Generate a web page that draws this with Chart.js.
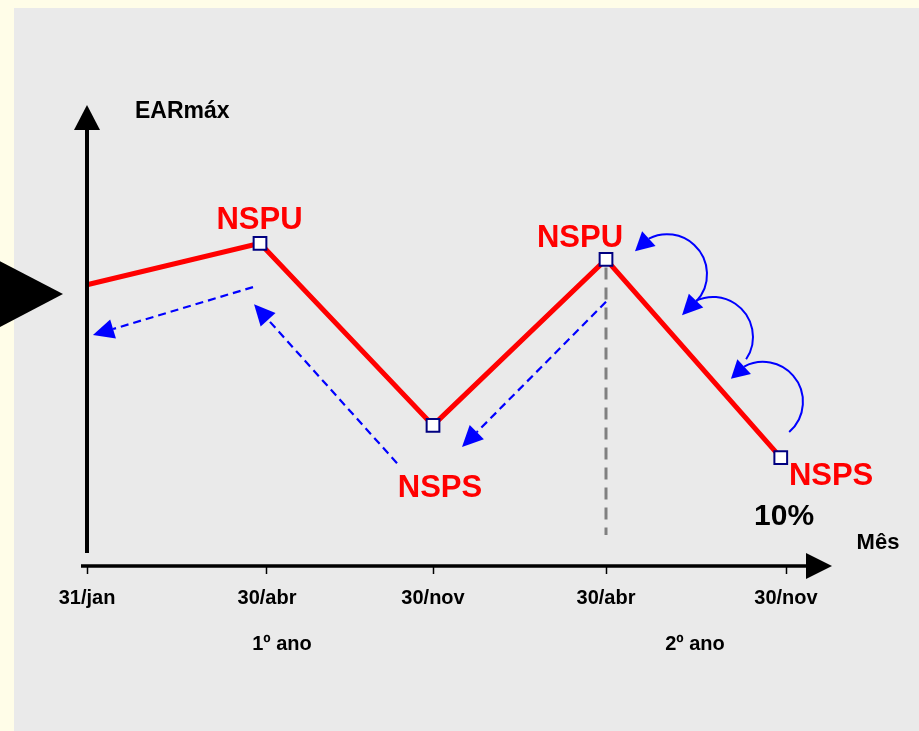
<!DOCTYPE html>
<html>
<head>
<meta charset="utf-8">
<script src="https://cdn.jsdelivr.net/npm/chart.js@4.4.0/dist/chart.umd.min.js"></script>
<style>
  html, body { margin: 0; padding: 0; background: #fffde8; overflow: hidden; }
  #c { display: block; }
</style>
</head>
<body>
<canvas id="c" width="919" height="731"></canvas>
<script>
// ---- data ----
const pointX = [0, 0.99, 1.98, 2.97, 3.97];       // position along the month axis
const earValues = [61, 70, 30.5, 66.5, 23.5];       // EARmáx level (relative units)
const tickPositions = [0, 1.03, 1.98, 2.97, 4];
const tickLabels = ['31/jan', '30/abr', '30/nov', '30/abr', '30/nov'];
const pointLabels = ['', 'NSPU', 'NSPS', 'NSPU', 'NSPS'];
const yearLabels = ['1º ano', '2º ano'];
const yearPositions = [1.116, 3.479];

const FONT = "'Liberation Sans', Arial, Helvetica, sans-serif";

const decor = {
  id: 'decor',
  beforeDraw(chart) {
    const c = chart.ctx;
    c.save();
    c.fillStyle = '#fffde8';
    c.fillRect(0, 0, chart.width, chart.height);
    c.fillStyle = '#eaeaea';
    c.fillRect(14, 8, chart.width - 14, chart.height - 8);
    c.restore();
  },
  beforeDatasetsDraw(chart) {
    const c = chart.ctx, xs = chart.scales.x, ys = chart.scales.y;
    // grey dashed vertical guide at 2nd NSPU
    c.save();
    c.strokeStyle = '#808080';
    c.lineWidth = 3;
    c.setLineDash([12, 8]);
    const gx = xs.getPixelForValue(pointX[3]);
    c.beginPath();
    c.moveTo(gx, ys.getPixelForValue(earValues[3]) + 8);
    c.lineTo(gx, ys.getPixelForValue(6.7));
    c.stroke();
    c.restore();
  },
  afterDatasetsDraw(chart) {
    const c = chart.ctx, xs = chart.scales.x, ys = chart.scales.y;
    const X = v => xs.getPixelForValue(v), Y = v => ys.getPixelForValue(v);
    const ca = chart.chartArea;
    c.save();

    // axes
    c.fillStyle = '#000';
    c.strokeStyle = '#000';
    c.lineWidth = 4;
    c.beginPath();
    c.moveTo(ca.left, ca.top + 25);
    c.lineTo(ca.left, ca.bottom - 13);
    c.stroke();
    c.beginPath();
    c.moveTo(ca.left, ca.top);
    c.lineTo(ca.left - 13, ca.top + 25);
    c.lineTo(ca.left + 13, ca.top + 25);
    c.closePath();
    c.fill();

    c.lineWidth = 3.5;
    c.beginPath();
    c.moveTo(ca.left - 6, ca.bottom);
    c.lineTo(ca.right + 22, ca.bottom);
    c.stroke();
    c.beginPath();
    c.moveTo(ca.right + 46, ca.bottom);
    c.lineTo(ca.right + 20, ca.bottom - 13);
    c.lineTo(ca.right + 20, ca.bottom + 13);
    c.closePath();
    c.fill();

    // big pointer triangle at left
    c.beginPath();
    c.moveTo(-6, Y(59) - 36);
    c.lineTo(ca.left - 24, Y(59));
    c.lineTo(-6, Y(59) + 36);
    c.closePath();
    c.fill();

    // axis texts
    c.font = 'bold 23px ' + FONT;
    c.textAlign = 'left';
    c.textBaseline = 'alphabetic';
    c.fillText('EARmáx', ca.left + 48, 118);
    c.font = 'bold 22px ' + FONT;
    c.textAlign = 'center';
    c.fillText('Mês', ca.right + 92, 549);
    c.font = 'bold 20px ' + FONT;
    yearLabels.forEach((t, i) => c.fillText(t, X(yearPositions[i]), ca.bottom + 84));

    // point labels
    c.font = 'bold 31px ' + FONT;
    c.fillStyle = '#ff0000';
    const lblPos = [null, [0.987, 73.1], [2.02, 15.0], [2.821, 69.2], [4.258, 17.6]];
    pointLabels.forEach((t, i) => { if (t) c.fillText(t, X(lblPos[i][0]), Y(lblPos[i][1])); });
    c.fillStyle = '#000';
    c.font = 'bold 30px ' + FONT;
    c.fillText('10%', X(3.989), Y(8.9));

    // blue arrows
    const head = (bx, by, tx, ty, halfW) => {
      const dx = tx - bx, dy = ty - by, L = Math.hypot(dx, dy);
      const nx = -dy / L, ny = dx / L;
      c.beginPath();
      c.moveTo(tx, ty);
      c.lineTo(bx + nx * halfW, by + ny * halfW);
      c.lineTo(bx - nx * halfW, by - ny * halfW);
      c.closePath();
      c.fill();
    };
    c.fillStyle = '#0000ff';
    c.strokeStyle = '#0000ff';
    const dashed = [
      [0.950, 60.5, 0.034, 50.1],
      [1.774, 22.3, 0.956, 56.8],
      [2.970, 57.3, 2.146, 25.8]
    ];
    dashed.forEach(([x0, y0, x1, y1]) => {
      const ax = X(x0), ay = Y(y0), tx = X(x1), ty = Y(y1);
      const L = Math.hypot(tx - ax, ty - ay);
      const ux = (tx - ax) / L, uy = (ty - ay) / L;
      const bx = tx - ux * 21, by = ty - uy * 21;
      c.lineWidth = 2.2;
      c.setLineDash([8, 5]);
      c.beginPath();
      c.moveTo(ax, ay);
      c.lineTo(bx, by);
      c.stroke();
      c.setLineDash([]);
      head(bx, by, tx, ty, 10);
    });

    const arcs = [
      [3.319, 63.3, 43, -117, 3.136, 68.3],
      [3.582, 49.7, 34, -115, 3.405, 54.4],
      [3.868, 35.6, 49, -118, 3.685, 40.6]
    ];
    arcs.forEach(([cx, cy, a0, a1, tx, ty]) => {
      const px = X(cx), py = Y(cy), r = 40;
      const s = a0 * Math.PI / 180, e = a1 * Math.PI / 180;
      c.lineWidth = 2;
      c.beginPath();
      c.arc(px, py, r, s, e, true);
      c.stroke();
      const bx = px + r * Math.cos(e), by = py + r * Math.sin(e);
      head(bx, by, X(tx), Y(ty), 10);
    });

    c.restore();
  }
};

new Chart(document.getElementById('c'), {
  type: 'line',
  data: {
    datasets: [{
      data: pointX.map((x, i) => ({ x, y: earValues[i] })),
      borderColor: '#ff0000',
      borderWidth: 5,
      tension: 0,
      fill: false,
      clip: false,
      pointStyle: 'rect',
      pointRadius: earValues.map((v, i) => i === 0 ? 0 : 9),
      pointBackgroundColor: '#ffffff',
      pointBorderColor: '#000080',
      pointBorderWidth: 2
    }]
  },
  options: {
    responsive: false,
    devicePixelRatio: 1,
    animation: false,
    events: [],
    layout: { padding: { left: 87, right: 133, top: 105, bottom: 0 } },
    plugins: { legend: { display: false }, tooltip: { enabled: false }, title: { display: false } },
    scales: {
      x: {
        type: 'linear',
        min: 0,
        max: 4,
        afterBuildTicks: s => { s.ticks = tickPositions.map(v => ({ value: v })); },
        afterFit: s => { s.height = 165; },
        border: { display: false },
        grid: { display: true, drawOnChartArea: false, drawTicks: true, tickLength: 8, tickColor: '#000', tickWidth: 1.5 },
        ticks: {
          autoSkip: false,
          maxRotation: 0,
          padding: 12,
          color: '#000',
          font: { family: FONT, size: 20, weight: 'bold' },
          callback: (v, i) => tickLabels[i]
        }
      },
      y: {
        type: 'linear',
        min: 0,
        max: 100,
        display: false
      }
    }
  },
  plugins: [decor]
});
</script>
</body>
</html>
